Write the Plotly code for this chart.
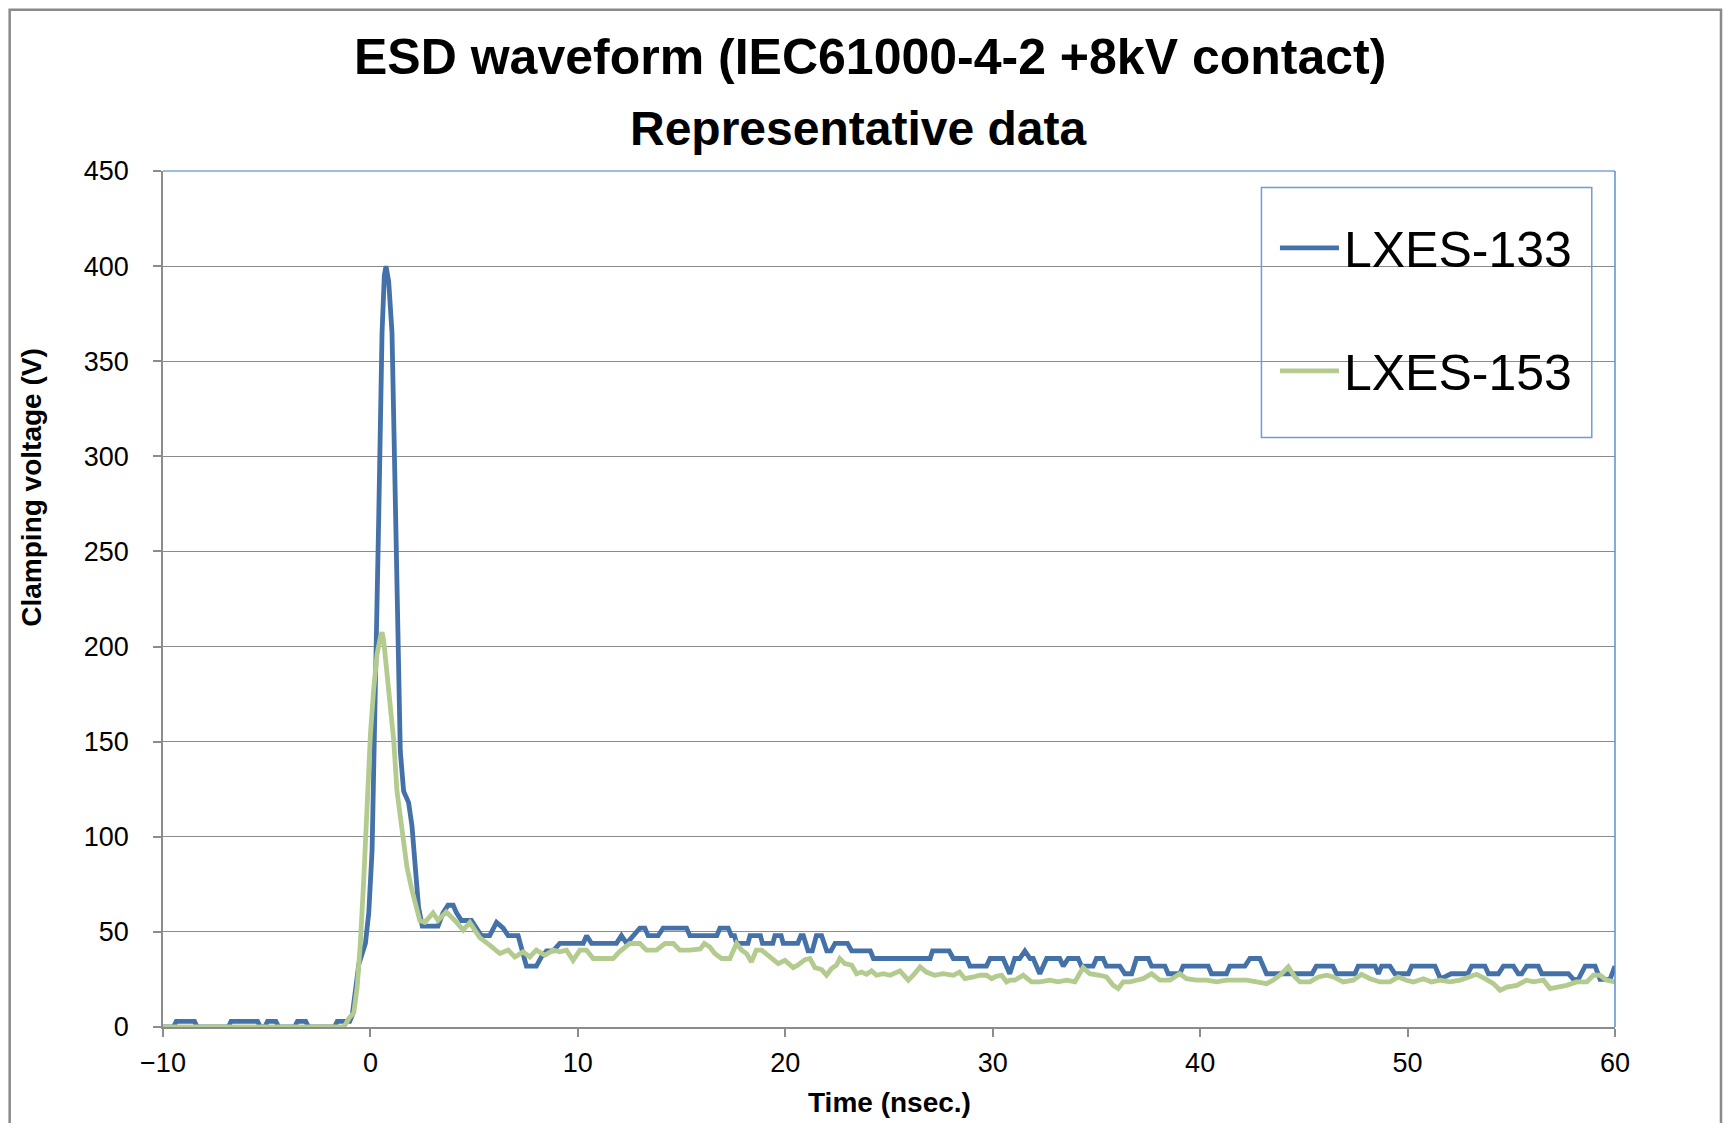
import plotly.graph_objects as go

# ---------------- data ----------------
t_133 = [-10, -9.5, -9.36, -8.48, -8.35, -6.85, -6.72, -5.44, -5.3, -5.1, -4.96, -4.56, -4.42,
         -3.66, -3.52, -3.12, -2.98, -1.74, -1.6, -1.0, -0.88, -0.56, -0.24, -0.08, 0.08, 0.24,
         0.4, 0.56, 0.67, 0.75, 0.88, 1.04, 1.12, 1.2, 1.33, 1.44, 1.6, 1.84, 2.0, 2.16, 2.32,
         2.5, 3.26, 3.5, 3.74, 3.99, 4.15, 4.39, 4.87, 5.11, 5.35, 5.75, 6.08, 6.4, 6.64, 7.12,
         7.3, 7.52, 8.0, 8.25, 8.49, 8.81, 9.13, 10.26, 10.42, 10.66, 11.86, 12.1, 12.35, 12.67,
         12.99, 13.23, 13.39, 13.87, 14.11, 15.24, 15.4, 16.7, 16.85, 17.25, 17.4, 17.55, 17.65,
         18.2, 18.3, 18.8, 18.9, 19.4, 19.5, 19.8, 19.9, 20.6, 20.75, 20.87, 21.1, 21.3, 21.5,
         21.75, 22.0, 22.2, 22.4, 23.0, 23.2, 24.1, 24.25, 26.98, 27.1, 27.9, 28.1, 28.75, 28.9,
         29.7, 29.87, 30.5, 30.82, 31.06, 31.3, 31.55, 31.8, 31.95, 32.27, 32.6, 33.23, 33.4,
         33.64, 34.12, 34.28, 34.84, 35.0, 35.32, 35.48, 36.13, 36.37, 36.7, 36.93, 37.5, 37.66,
         38.3, 38.46, 39.02, 39.18, 40.39, 40.55, 41.27, 41.43, 42.16, 42.4, 42.88, 43.2, 45.4,
         45.6, 46.4, 46.58, 47.46, 47.62, 48.43, 48.59, 48.75, 49.15, 49.39, 50.04, 50.2, 51.32,
         51.56, 51.72, 52.1, 52.9, 53.09, 53.73, 53.9, 54.38, 54.62, 55.1, 55.34, 55.5, 55.74,
         56.3, 56.47, 57.75, 58.0, 58.23, 58.56, 59.04, 59.28, 59.76, 60.0]
v_133 = [0, 0, 3, 3, 0, 0, 3, 3, 0, 0, 3, 3, 0,
         0, 3, 3, 0, 0, 3, 3, 6, 33, 44, 60, 93, 169,
         268, 365, 395, 400, 392, 365, 320, 274, 214, 145, 124, 118, 106, 80, 63,
         53, 53, 60, 64, 64, 60, 56, 56, 52, 48, 48, 55, 52, 48, 48,
         40, 32, 32, 37, 40, 40, 44, 44, 48, 44, 44, 48, 44, 48,
         52, 52, 48, 48, 52, 52, 48, 48, 52, 52, 48, 48, 44,
         44, 48, 48, 44, 44, 48, 48, 44, 44, 48, 48, 40, 40, 48,
         48, 40, 40, 44, 44, 40, 40, 36, 36, 40, 40, 36, 36, 32,
         32, 36, 36, 28, 36, 36, 40, 36, 36, 28, 36, 36, 32,
         36, 36, 32, 32, 36, 36, 32, 32, 28, 28, 36, 36, 32,
         32, 28, 28, 32, 32, 28, 28, 32, 32, 36, 36, 28, 28,
         32, 32, 28, 28, 32, 32, 28, 32, 32, 28, 28, 32, 32,
         26, 26, 28, 28, 32, 32, 28, 28, 32, 32, 28, 28, 32,
         32, 28, 28, 25, 25, 32, 32, 25, 25, 32]

t_153 = [-10, -1.28, -1.04, -0.8, -0.64, -0.48, -0.32, -0.16, 0, 0.16, 0.32, 0.48, 0.56, 0.64,
         0.8, 1.0, 1.12, 1.28, 1.52, 1.76, 2.0, 2.38, 2.62, 3.02, 3.26, 3.66, 4.07, 4.47, 4.79,
         5.27, 5.75, 6.24, 6.64, 6.96, 7.36, 7.68, 8.0, 8.41, 8.81, 9.13, 9.45, 9.77, 10.1, 10.42,
         10.74, 11.7, 12.0, 12.51, 12.99, 13.31, 13.79, 14.2, 14.6, 14.92, 15.4, 15.72, 15.9, 16.1,
         16.36, 16.6, 16.93, 17.33, 17.65, 17.9, 18.13, 18.37, 18.6, 18.86, 19.26, 19.66, 19.98,
         20.38, 20.6, 20.95, 21.19, 21.43, 21.75, 21.99, 22.23, 22.47, 22.63, 22.87, 23.2, 23.44,
         23.68, 23.92, 24.16, 24.4, 24.72, 25.05, 25.53, 25.93, 26.17, 26.5, 26.8, 27.2, 27.6,
         28.1, 28.4, 28.66, 29.07, 29.39, 29.7, 29.95, 30.19, 30.43, 30.67, 30.83, 31.06, 31.47,
         31.87, 32.27, 32.75, 33.15, 33.56, 33.96, 34.36, 34.68, 35.16, 35.48, 35.81, 36.05,
         36.29, 36.61, 36.93, 37.25, 37.66, 38.06, 38.54, 39.02, 39.34, 39.83, 40.31, 40.79,
         41.27, 41.76, 42.24, 42.72, 43.2, 43.52, 43.93, 44.25, 44.57, 44.81, 45.29, 45.7, 46.1,
         46.42, 46.9, 47.38, 47.78, 48.19, 48.67, 49.15, 49.55, 49.95, 50.28, 50.76, 51.16,
         51.56, 52.05, 52.53, 53.01, 53.33, 53.73, 54.14, 54.46, 54.78, 55.26, 55.74, 56.06,
         56.55, 56.87, 57.27, 57.67, 58.15, 58.64, 58.96, 59.28, 59.6, 60.0]
v_153 = [0, 0, 4.5, 7.5, 21, 45, 78, 124, 154, 178, 196, 205, 207.5, 203,
         184, 166, 151, 124, 102, 84, 72, 56, 55, 60, 56, 60.5, 56, 51, 55,
         47, 43, 38.6, 40.4, 36.8, 39.5, 36.8, 40.4, 37.7, 40.4, 39.5, 40.4, 35, 40.4, 40.4,
         36, 36, 39.5, 43.9, 43.9, 40.4, 40.4, 43.9, 43.9, 40.4, 40.4, 40.5, 41, 43.9,
         42, 38.6, 36, 36, 43.9, 40.4, 38.6, 34.2, 40.4, 40.4, 36.8, 33.3, 35,
         31.2, 32.5, 35.4, 36, 31.2, 30.2, 27.2, 30.7, 32.5, 36, 33.3, 32.5, 28,
         28.9, 27.7, 29.5, 27.2, 28, 27.2, 29.5, 24.6, 27.2, 31.6, 28.9, 27.2, 28,
         27.2, 28.9, 25.4, 26.3, 27.2, 27.2, 25.4, 26.8, 27.2, 23.7, 24.6, 24.6, 27.2,
         23.7, 23.7, 24.6, 23.7, 24.6, 23.7, 31.2, 28, 27.2, 26.3, 21.9, 20.2,
         23.7, 23.7, 24.6, 25.4, 28, 24.6, 24.6, 28, 25.4, 24.6, 24.6, 23.7,
         24.6, 24.6, 24.6, 23.7, 22.8, 24.6, 28, 31.6, 26.3, 23.7, 23.7, 26.3, 27.2,
         26.3, 23.7, 24.6, 27.7, 25.4, 23.7, 23.7, 26.3, 24.6, 23.7, 25.4, 23.7,
         24.6, 23.7, 24.6, 26.3, 27.7, 25.4, 22.8, 19.3, 21, 21.9, 24.6, 23.7,
         24.6, 20.2, 21, 21.9, 23.7, 23.7, 27.2, 27.2, 24.6, 23.7]

series_names = ["LXES-133", "LXES-153"]
series_colors = ["#4571A9", "#B3CB8E"]
x_ticks = [-10, 0, 10, 20, 30, 40, 50, 60]
y_ticks = [0, 50, 100, 150, 200, 250, 300, 350, 400, 450]

title_1 = "ESD waveform (IEC61000-4-2 +8kV contact)"
title_2 = "Representative data"
x_title = "Time (nsec.)"
y_title = "Clamping voltage (V)"

FONT = "Liberation Sans, Arial, sans-serif"

fig = go.Figure()
fig.add_trace(go.Scatter(x=t_133, y=v_133, mode="lines", name=series_names[0],
                         legendgroup="a",
                         line=dict(color=series_colors[0], width=4.8)))
fig.add_trace(go.Scatter(x=t_153, y=v_153, mode="lines", name=series_names[1],
                         legendgroup="b",
                         line=dict(color=series_colors[1], width=4.8)))

axis_gray = "#8C8C8C"
fig.update_layout(
    width=1716, height=1115,
    margin=dict(l=155, r=109, t=163, b=96),
    paper_bgcolor="white", plot_bgcolor="white",
    font=dict(family=FONT, color="black"),
    showlegend=True,
    legend=dict(x=0.7658, y=0.9558, xanchor="left", yanchor="top",
                borderwidth=0, bgcolor="rgba(0,0,0,0)",
                font=dict(family=FONT, size=50, color="black"),
                tracegroupgap=55, itemwidth=59),
    xaxis=dict(range=[-10, 60], tickvals=x_ticks, showgrid=False, zeroline=False,
               showline=True, linecolor=axis_gray, linewidth=1.5,
               ticks="outside", ticklen=8, tickcolor=axis_gray, tickwidth=1.5,
               tickfont=dict(family=FONT, size=27, color="black"),
               ticklabelstandoff=3),
    yaxis=dict(range=[0, 450], tickvals=y_ticks, showgrid=True, gridcolor=axis_gray,
               gridwidth=1.2, zeroline=False,
               showline=True, linecolor=axis_gray, linewidth=1.5,
               ticks="outside", ticklen=8, tickcolor=axis_gray, tickwidth=1.5,
               tickfont=dict(family=FONT, size=27, color="black"),
               ticklabelstandoff=19),
)

# plot-area border on top and right (blue), legend frame, and the chart-area frame (gray)
fig.add_shape(type="line", xref="paper", yref="paper", x0=0, x1=1, y0=1, y1=1,
              line=dict(color="#7EA6D8", width=1.5))
fig.add_shape(type="line", xref="paper", yref="paper", x0=1, x1=1, y0=0, y1=1,
              line=dict(color="#5C8FD3", width=1.5))
fig.add_shape(type="rect", xref="paper", yref="paper", x0=0.7565, x1=0.9840,
              y0=0.6888, y1=0.9806, line=dict(color="#6E9DD4", width=1.5))
fig.add_shape(type="rect", xref="paper", yref="paper", x0=-0.1056, x1=1.0730,
              y0=-0.3, y1=1.1883, line=dict(color="#8A8A8A", width=2.5), layer="below")

fig.add_annotation(text="<b>%s</b>" % title_1, xref="paper", yref="paper",
                   x=0.4867, y=1.1335, xanchor="center", yanchor="middle", showarrow=False,
                   font=dict(family=FONT, size=50, color="black"))
fig.add_annotation(text="<b>%s</b>" % title_2, xref="paper", yref="paper",
                   x=0.4784, y=1.0493, xanchor="center", yanchor="middle", showarrow=False,
                   font=dict(family=FONT, size=48, color="black"))
fig.add_annotation(text="<b>%s</b>" % x_title, xref="paper", yref="paper",
                   x=0.5, y=-0.088, xanchor="center", yanchor="middle", showarrow=False,
                   font=dict(family=FONT, size=28, color="black"))
fig.add_annotation(text="<b>%s</b>" % y_title, xref="paper", yref="paper",
                   x=-0.0904, y=0.6297, xanchor="center", yanchor="middle", showarrow=False,
                   textangle=-90, font=dict(family=FONT, size=28, color="black"))

fig.write_html("out.html")
